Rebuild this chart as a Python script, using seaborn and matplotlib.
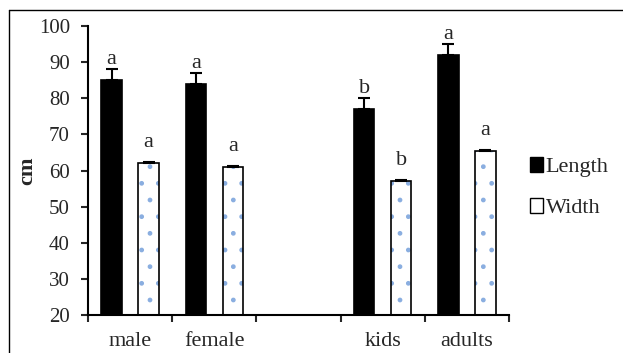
import numpy as np
import pandas as pd
import matplotlib
matplotlib.use("Agg")
import matplotlib.pyplot as plt
from matplotlib.patches import Patch, Rectangle
from matplotlib.lines import Line2D
import seaborn as sns

# data
groups = ["male", "female", "", "kids", "adults"]
length_vals = [85, 84, np.nan, 77, 92]
width_vals = [62, 61, np.nan, 57.2, 65.4]
length_err = [3, 3, np.nan, 3, 3]
width_err = [0.3, 0.3, np.nan, 0.3, 0.3]
length_letters = ["a", "a", "", "b", "a"]
width_letters = ["a", "a", "", "b", "a"]

sns.set_style("ticks")
plt.rcParams["font.family"] = ["Liberation Serif", "DejaVu Serif"]
plt.rcParams["hatch.linewidth"] = 1.0

df = pd.DataFrame({
    "group": groups * 2,
    "type": ["Length"] * len(groups) + ["Width"] * len(groups),
    "value": length_vals + width_vals,
}).dropna()

fig = plt.figure(figsize=(6.23, 3.53), dpi=100)
ax = fig.add_axes([0.1413, 0.1076, 0.6757, 0.8187])

sns.barplot(data=df, x="group", y="value", hue="type", order=groups,
            hue_order=["Length", "Width"],
            palette={"Length": "black", "Width": "white"},
            width=0.88, gap=0.45, errorbar=None, edgecolor="black",
            linewidth=1.2, legend=False, ax=ax)

# dotted fill for Width bars (light blue dots, black outline on top)
n_len = int(np.sum(~np.isnan(length_vals)))
for p in ax.patches[n_len:]:
    outline = Rectangle(p.get_xy(), p.get_width(), p.get_height(),
                        fill=False, edgecolor="black", linewidth=1.2, zorder=p.get_zorder() + 0.1)
    ax.add_patch(outline)
    p.set_edgecolor("#8aaee0")
    p.set_linewidth(0)
    p.set_hatch(".")

# error bars (plus only) and letters
idx = np.arange(len(groups))
off = 0.22
for vals, errs, letters, sgn in [(length_vals, length_err, length_letters, -1),
                                  (width_vals, width_err, width_letters, 1)]:
    vals = np.array(vals, dtype=float)
    errs = np.array(errs, dtype=float)
    ok = ~np.isnan(vals)
    xs = idx[ok] + sgn * off
    ax.errorbar(xs, vals[ok], yerr=[np.zeros(ok.sum()), errs[ok]], fmt="none",
                ecolor="black", elinewidth=1.5, capsize=4, capthick=1.5)
    for x, v, lab in zip(xs, vals[ok], np.array(letters)[ok]):
        ax.text(x, v + 4.4, lab, ha="center", va="baseline", fontsize=16)

ax.set_ylim(20, 100)
ax.set_yticks(np.arange(20, 101, 10))
ax.set_xlim(-0.5, len(groups) - 0.5)
ax.set_xticks(idx)
ax.set_xticklabels(groups)
ax.set_xticks(np.arange(-0.5, len(groups), 1), minor=True)
ax.tick_params(axis="x", which="major", length=0, pad=12, labelsize=16)
ax.tick_params(axis="x", which="minor", length=5, width=1.5, direction="out")
ax.tick_params(axis="y", length=5, width=1.5, pad=8, labelsize=15)
ax.set_xlabel("")
ax.set_ylabel("cm", fontsize=16, fontweight="bold", labelpad=1)
sns.despine(ax=ax)
for s in ["left", "bottom"]:
    ax.spines[s].set_linewidth(1.5)
    ax.spines[s].set_color("black")

handles = [Patch(facecolor="black", edgecolor="black", label="Length"),
           Patch(facecolor="white", edgecolor="black", label="Width")]
ax.legend(handles=handles, loc="center left", bbox_to_anchor=(1.05, 0.44),
          frameon=False, fontsize=16, handlelength=0.6, handleheight=0.6,
          handletextpad=0.1, labelspacing=0.95, borderpad=0, borderaxespad=0)

# outer frame (left and top edges only visible)
fig.add_artist(Line2D([9 / 623, 9 / 623], [0, 1 - 10 / 353], transform=fig.transFigure,
                      color="black", lw=1))
fig.add_artist(Line2D([9 / 623, 1], [1 - 10 / 353, 1 - 10 / 353], transform=fig.transFigure,
                      color="black", lw=1))

fig.savefig("out.png", dpi=100)
